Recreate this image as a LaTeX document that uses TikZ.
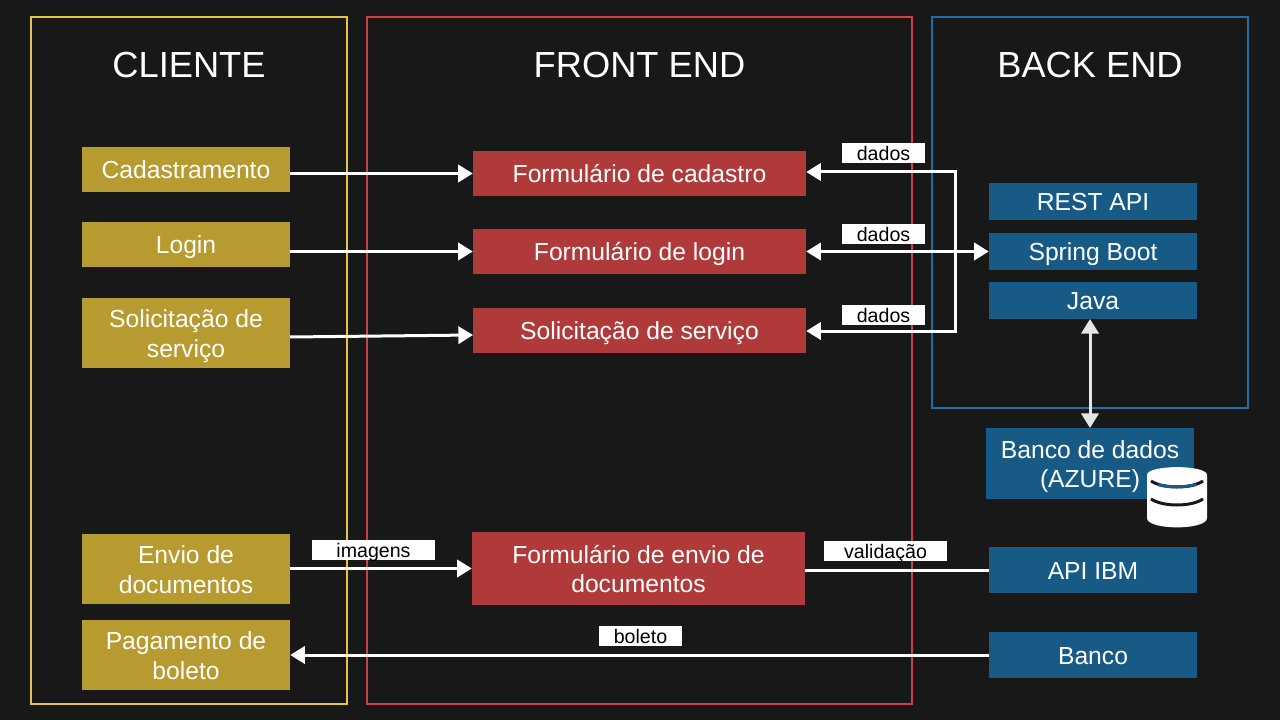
\documentclass[tikz,border=0pt]{standalone}
\usepackage{fontspec}
\setmainfont{Liberation Sans}
\usepackage{xcolor}
\usetikzlibrary{arrows.meta}
\definecolor{fundo}{HTML}{181818}
\definecolor{ouro}{HTML}{B89B30}
\definecolor{tijolo}{HTML}{B03A3A}
\definecolor{azul}{HTML}{175A85}
\definecolor{linhaouro}{HTML}{E8C33F}
\definecolor{linhatijolo}{HTML}{D04040}
\definecolor{linhaazul}{HTML}{1F6EA8}
\tikzset{
  x=0.75pt,y=-0.75pt,
  frame/.style={draw=#1,line width=1.5pt,fill=none,minimum height=515pt},
  title/.style={text=white,font=\fontsize{27.2}{32}\selectfont},
  box/.style={fill=#1,text=white,minimum width=156pt,inner sep=0pt,align=center,
    font=\fontsize{18.5}{22}\selectfont,text height=16pt,text depth=2pt},
  duaslinhas/.style={text height=38pt,text depth=2pt},
  tag/.style={fill=white,text=black,minimum height=15pt,inner sep=0pt,
    font=\fontsize{14.7}{15}\selectfont,text height=12pt,text depth=1pt},
  seta/.style={draw=white,line width=2.25pt,-{Triangle[length=11pt,width=13pt]}},
  duasetas/.style={draw=white,line width=2.25pt,{Triangle[length=11pt,width=13pt]}-{Triangle[length=11pt,width=13pt]}},
}
\begin{document}
\begin{tikzpicture}
  \fill[fundo] (0,0) rectangle (1280,720);
  % molduras
  \node[frame=linhaouro,minimum width=237pt] (cliente) at (189,360.5) {};
  \node[frame=linhatijolo,minimum width=409pt] (front) at (639.5,360.5) {};
  \node[frame=linhaazul,minimum width=237pt,minimum height=293pt] (back) at (1090,212.5) {};
  \node[title] (tcliente) at (189,65) {CLIENTE};
  \node[title] (tfront) at (639.5,65) {FRONT END};
  \node[title] (tback) at (1090,65) {BACK END};
  % cliente
  \node[box=ouro,minimum height=33.75pt] (cad) at (186,169.5) {Cadastramento};
  \node[box=ouro,minimum height=33.75pt] (login) at (186,244.5) {Login};
  \node[box=ouro,duaslinhas,minimum height=52.5pt] (sol) at (186,333) {Solicitação de\\serviço};
  \node[box=ouro,duaslinhas,minimum height=52.5pt] (envio) at (186,569) {Envio de\\documentos};
  \node[box=ouro,duaslinhas,minimum height=52.5pt] (pag) at (186,655) {Pagamento de\\boleto};
  % front end
  \node[box=tijolo,minimum width=249.75pt,minimum height=33.75pt] (fcad) at (639.5,173.5) {Formulário de cadastro};
  \node[box=tijolo,minimum width=249.75pt,minimum height=33.75pt] (flogin) at (639.5,251.5) {Formulário de login};
  \node[box=tijolo,minimum width=249.75pt,minimum height=33.75pt] (fsol) at (639.5,330.5) {Solicitação de serviço};
  \node[box=tijolo,duaslinhas,minimum width=249.75pt,minimum height=54.75pt] (fenvio) at (638.5,568.5) {Formulário de envio de\\documentos};
  % back end
  \node[box=azul,minimum height=27.75pt] (rest) at (1093,201.5) {REST API};
  \node[box=azul,minimum height=27.75pt] (spring) at (1093,251.5) {Spring Boot};
  \node[box=azul,minimum height=27.75pt] (java) at (1093,300.5) {Java};
  \node[box=azul,duaslinhas,minimum height=53.25pt] (bd) at (1090,463.5) {Banco de dados\\(AZURE)};
  \node[box=azul,minimum height=34.5pt] (ibm) at (1093,570) {API IBM};
  \node[box=azul,minimum height=34.5pt] (banco) at (1093,655) {Banco};
  % pontos soltos
  \coordinate (canto1) at (955,172);
  \coordinate (canto2) at (955,331);
  \coordinate (javab) at (1090,319);
  \coordinate (bdt) at (1090,428);
  \coordinate (sola) at (290,337);
  \coordinate (solb) at (473,335);
  % conexoes
  \draw[seta] (cad.east |- fcad.west) -- (fcad.west);
  \draw[seta] (login.east |- flogin.west) -- (flogin.west);
  \draw[seta] (sola) -- (solb);
  \draw[seta] (envio.east |- fenvio.west) -- (fenvio.west);
  \draw[seta] (canto1) -- (fcad.east |- canto1);
  \draw[seta] (canto2) -- (fsol.east |- canto2);
  \draw[draw=white,line width=2.25pt,line cap=rect] (canto1) -- (canto2);
  \draw[duasetas] (flogin.east) -- (spring.west);
  \draw[duasetas,draw=white!90!black] (javab) -- (bdt);
  \draw[draw=white,line width=2.25pt] (fenvio.east |- ibm.west) -- (ibm.west);
  \draw[seta] (banco.west) -- (pag.east);
  % etiquetas
  \node[tag,minimum width=62.25pt] (dados1) at (883.5,153) {dados};
  \node[tag,minimum width=62.25pt] (dados2) at (883.5,234) {dados};
  \node[tag,minimum width=62.25pt] (dados3) at (883.5,315) {dados};
  \node[tag,minimum width=92.25pt] (imagens) at (373.5,550) {imagens};
  \node[tag,minimum width=92.25pt] (valid) at (885.5,551) {validação};
  \node[tag,minimum width=62.25pt] (boleto) at (640.5,636) {boleto};
  % icone do banco
  \fill[white] (1147,475) .. controls (1147,464.5) and (1207,464.5) .. (1207,475)
    -- (1207,518) .. controls (1207,530.5) and (1147,530.5) .. (1147,518) -- cycle;
  \draw[fundo,line width=2.25pt] (1151,481) .. controls (1163,489) and (1191,489) .. (1203,481);
  \draw[azul,line width=2.25pt] (1158,484.6) .. controls (1168,487.5) and (1186,487.5) .. (1196,484.6);
  \draw[fundo,line width=2.25pt] (1151,499) .. controls (1163,507) and (1191,507) .. (1203,499);
\end{tikzpicture}
\end{document}
